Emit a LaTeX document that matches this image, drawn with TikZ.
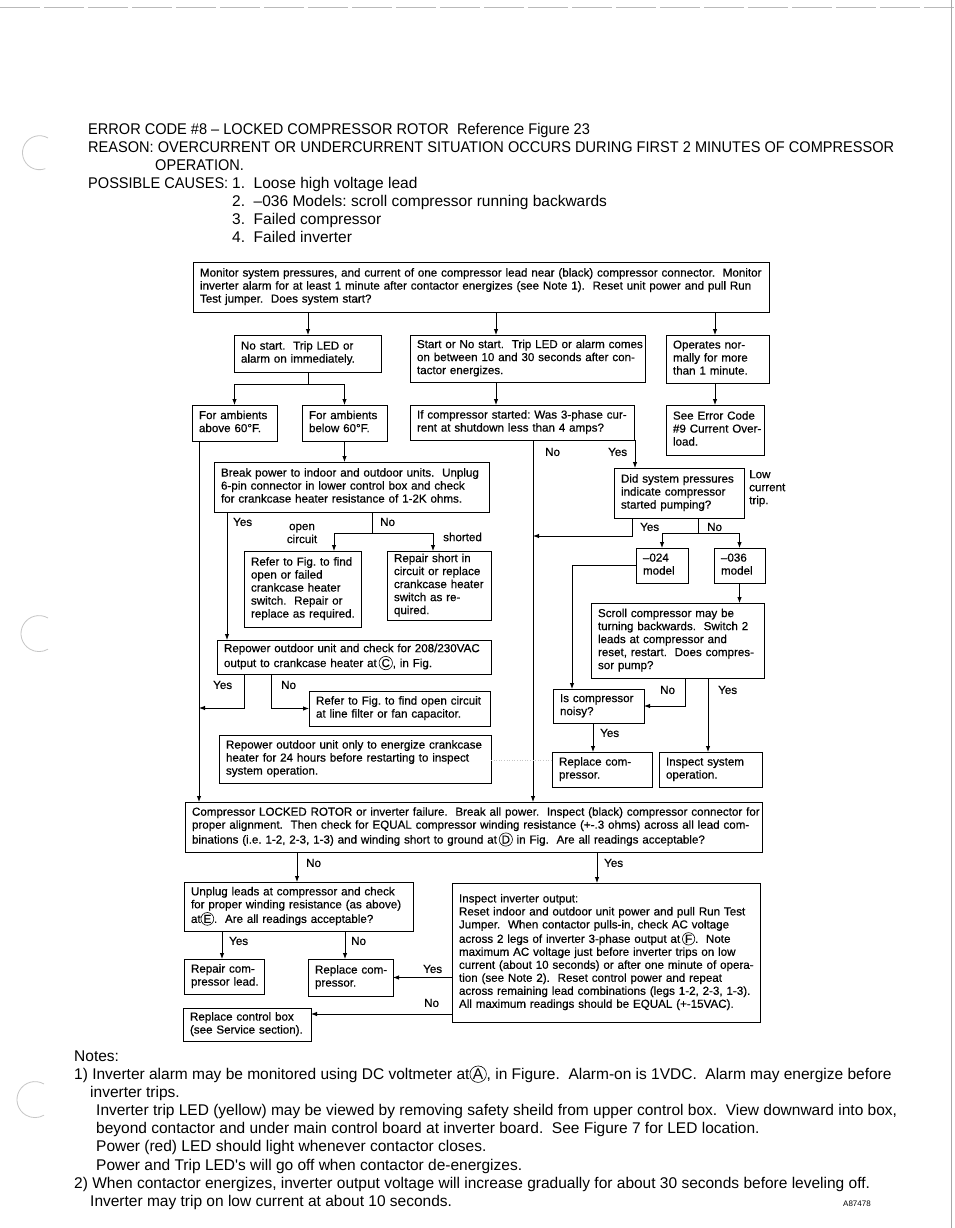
\documentclass[tikz,border=0pt]{standalone}
\usepackage{fontspec}
\setmainfont{Liberation Sans}
\newfontfamily\hfont[FakeStretch=0.94]{Liberation Sans}
\newfontfamily\nfont[FakeStretch=1.0]{Liberation Sans}
\newfontfamily\bfontfam[FakeBold=0.5]{Liberation Sans}
\usetikzlibrary{arrows.meta}
\newcommand\bxfont{\bfontfam\fontsize{11.6}{13}\selectfont}
\newcommand\hdfont{\hfont\fontsize{15.5}{18}\selectfont}
\newcommand\ntfont{\nfont\fontsize{15.5}{18}\selectfont}
\newcommand\cl[1]{\tikz[baseline=(cl.base)]\node[draw,circle,line width=0.6pt,inner sep=0.6pt,minimum size=0pt,text width={},anchor=center,outer sep=0pt](cl){#1};}
\tikzset{
 box/.style={draw,line width=0.9pt,anchor=north west,inner xsep=7pt,inner ysep=1pt,align=left,font=\bxfont,outer sep=0pt},
 lbl/.style={font=\bxfont,inner sep=0pt,anchor=west},
 ln/.style={line width=0.9pt},
 arr/.style={line width=0.9pt,-{Latex[length=6pt,width=4.5pt]}},
 hd/.style={font=\hdfont,inner sep=0pt,anchor=base west},
 nt/.style={font=\ntfont,inner sep=0pt,anchor=base west},
}
\newcommand\bx[6]{%
 \pgfmathsetmacro\bw{#4-#2}\pgfmathsetmacro\bh{#5-#3}\pgfmathsetmacro\tw{#4-#2-14}%
 \node[box,minimum width=\bw pt,minimum height=\bh pt,text width=\tw pt] (#1) at (#2,-#3) {\begin{tabular}{@{}l@{}}#6\end{tabular}};}
\begin{document}
\frenchspacing
\begin{tikzpicture}[x=1pt,y=1pt]
\fill[white] (0,0) rectangle (954,-1228);
\useasboundingbox (0,0) rectangle (954,-1228);
% scan edges
\draw[gray!55,line width=0.6pt,dash pattern=on 40pt off 4pt] (0,-7) -- (954,-7);
\draw[gray!70,line width=0.8pt] (951,0) -- (951,-1228);
\draw[gray!45,line width=0.8pt] (48,-138) arc (60:290:17);
\draw[gray!45,line width=0.8pt] (48,-618) arc (60:300:18);
\draw[gray!45,line width=0.8pt] (44,-1084) arc (60:300:18);

% header
\node[hd] (h1) at (88,-134.5) {ERROR CODE \#8 – LOCKED COMPRESSOR ROTOR\ \ Reference Figure 23};
\node[hd] (h2) at (88,-152.5) {REASON: OVERCURRENT OR UNDERCURRENT SITUATION OCCURS DURING FIRST 2 MINUTES OF COMPRESSOR};
\node[hd] (h3) at (155,-170.5) {OPERATION.};
\node[hd] (h4) at (88,-188.5) {POSSIBLE CAUSES:};
\node[nt] (h5) at (232,-188.5) {1. \ Loose high voltage lead};
\node[nt] (h6) at (232,-206.5) {2. \ –036 Models: scroll compressor running backwards};
\node[nt] (h7) at (232,-224.5) {3. \ Failed compressor};
\node[nt] (h8) at (232,-242.5) {4. \ Failed inverter};

% boxes
\bx{b1}{193}{262}{769}{312}{Monitor system pressures, and current of one compressor lead near (black) compressor connector. \ Monitor\\ inverter alarm for at least 1 minute after contactor energizes (see Note 1). \ Reset unit power and pull Run\\ Test jumper. \ Does system start?}
\bx{b2}{234}{335}{381}{372}{No start. \ Trip LED or\\alarm on immediately.}
\bx{b3}{410}{335}{645}{382}{Start or No start. \ Trip LED or alarm comes\\on between 10 and 30 seconds after con-\\tactor energizes.}
\bx{b4}{666}{335}{769}{383}{Operates nor-\\mally for more\\than 1 minute.}
\bx{b5}{192}{405}{277}{441}{For ambients\\above 60°F.}
\bx{b6}{302}{405}{387}{441}{For ambients\\below 60°F.}
\bx{b7}{410}{405}{634}{440}{If compressor started: Was 3-phase cur-\\rent at shutdown less than 4 amps?}
\bx{b8}{666}{405}{764}{455}{See Error Code\\\#9 Current Over-\\load.}
\bx{b9}{214}{462}{489}{512}{Break power to indoor and outdoor units. \ Unplug\\6-pin connector in lower control box and check\\for crankcase heater resistance of 1-2K ohms.}
\bx{b10}{244}{551}{361}{627}{Refer to Fig. to find\\open or failed\\crankcase heater\\switch. \ Repair or\\replace as required.}
\bx{b11}{387}{551}{491}{620}{Repair short in\\circuit or replace\\crankcase heater\\switch as re-\\quired.}
\bx{b12}{217}{640}{491}{674}{Repower outdoor unit and check for 208/230VAC\\output to crankcase heater at\,\cl{C}, in Fig.}
\bx{b13}{309}{691}{490}{726}{Refer to Fig. to find open circuit\\at line filter or fan capacitor.}
\bx{b14}{219}{735}{491}{783}{Repower outdoor unit only to energize crankcase\\heater for 24 hours before restarting to inspect\\system operation.}
\bx{b15}{614}{468}{744}{518}{Did system pressures\\indicate compressor\\started pumping?}
\bx{b16}{636}{548}{688}{583}{–024\\model}
\bx{b17}{714}{548}{765}{583}{–036\\model}
\bx{b18}{591}{603}{764}{678}{Scroll compressor may be\\turning backwards. \ Switch 2\\leads at compressor and\\reset, restart. \ Does compres-\\sor pump?}
\bx{b19}{553}{689}{644}{723}{Is compressor\\noisy?}
\bx{b20}{552}{752}{652}{787}{Replace com-\\pressor.}
\bx{b21}{659}{752}{762}{787}{Inspect system\\operation.}
\bx{bb}{185}{802}{762}{852}{Compressor LOCKED ROTOR or inverter failure. \ Break all power. \ Inspect (black) compressor connector for\\proper alignment. \ Then check for EQUAL compressor winding resistance (+-.3 ohms) across all lead com-\\binations (i.e. 1-2, 2-3, 1-3) and winding short to ground at\,\cl{D} in Fig. \ Are all readings acceptable?}
\bx{b22}{184}{882}{413}{931}{Unplug leads at compressor and check\\for proper winding resistance (as above)\\at\cl{E}. \ Are all readings acceptable?}
\bx{b24}{184}{959}{264}{994}{Repair com-\\pressor lead.}
\bx{b25}{308}{959}{393}{996}{Replace com-\\pressor.}
\bx{b26}{183}{1008}{311}{1041}{Replace control box\\(see Service section).}
\bx{b23}{452}{883}{760}{1022}{Inspect inverter output:\\Reset indoor and outdoor unit power and pull Run Test\\Jumper. \ When contactor pulls-in, check AC voltage\\across 2 legs of inverter 3-phase output at\,\cl{F}. \ Note\\maximum AC voltage just before inverter trips on low\\current (about 10 seconds) or after one minute of opera-\\tion (see Note 2). \ Reset control power and repeat\\across remaining lead combinations (legs 1-2, 2-3, 1-3).\\All maximum readings should be EQUAL (+-15VAC).\\}

% helper coordinates
\coordinate (cA) at (308,0);
\coordinate (cB) at (496,0);
\coordinate (cC) at (715,0);
\coordinate (cL) at (199,0);
\coordinate (cY) at (227,0);
\coordinate (cO) at (334,0);
\coordinate (cS) at (433,0);
\coordinate (cN2) at (271,0);
\coordinate (cM) at (533,0);
\coordinate (cY2) at (635,0);
\coordinate (c24) at (572,0);
\coordinate (cN3) at (685,0);
\coordinate (cY4) at (708,0);
\coordinate (cY5) at (593,0);
\coordinate (cN4) at (297,0);
\coordinate (cY6) at (597,0);
\coordinate (cY7) at (222,0);
\coordinate (cN5) at (345,0);
\coordinate (j1) at (308,-384);
\coordinate (j2) at (372,-533);
\coordinate (j3) at (244,-708);
\coordinate (j4) at (632,-536);
\coordinate (j5) at (698,-533);
\coordinate (j6) at (0,-1014);
\coordinate (j7) at (0,-760);

% connectors
\draw[arr] (b1.south -| cA) -- (b2.north -| cA);
\draw[arr] (b1.south -| cB) -- (b3.north -| cB);
\draw[arr] (b1.south -| cC) -- (b4.north -| cC);
\draw[arr] (b3.south -| cB) -- (b7.north -| cB);
\draw[arr] (b4.south -| cC) -- (b8.north -| cC);
\draw[ln] (b2.south -| j1) -- (j1);
\draw[arr] (j1) -| (b5.north);
\draw[arr] (j1) -| (b6.north);
\draw[arr] (b5.south -| cL) -- (bb.north -| cL);
\draw[arr] (b6.south) -- (b9.north -| b6.south);
\draw[arr] (b9.south -| cY) -- (b12.north -| cY);
\draw[ln] (b9.south -| j2) -- (j2);
\draw[arr] (j2) -| (b10.north -| cO);
\draw[arr] (j2) -| (b11.north -| cS);
\draw[arr] (b12.south -| j3) |- (cL |- j3);
\draw[arr] (b12.south -| cN2) |- (b13.west);
\draw[arr] (b7.south -| cM) -- (bb.north -| cM);
\draw[arr] (b7.south -| cY2) -- (b15.north -| cY2);
\draw[arr] (b15.south -| j4) -- (j4) -- (cM |- j4);
\draw[ln] (b15.south -| j5) -- (j5);
\draw[arr] (j5) -| (b16.north);
\draw[arr] (j5) -| (b17.north);
\draw[arr] (b16.west) -| (b19.north -| c24);
\draw[arr] (b17.south) -- (b18.north -| b17.south);
\draw[arr] (b18.south -| cN3) |- (b19.east);
\draw[arr] (b18.south -| cY4) -- (b21.north -| cY4);
\draw[arr] (b19.south -| cY5) -- (b20.north -| cY5);
\draw[arr] (bb.south -| cN4) -- (b22.north -| cN4);
\draw[arr] (bb.south -| cY6) -- (b23.north -| cY6);
\draw[arr] (b22.south -| cY7) -- (b24.north -| cY7);
\draw[arr] (b22.south -| cN5) -- (b25.north -| cN5);
\draw[arr] (b23.west |- b25.east) -- (b25.east);
\draw[arr] (b23.west |- j6) -- (b26.east |- j6);
\draw[gray!45,line width=0.6pt,dotted] (b14.east |- j7) -- (b20.west |- j7);

% labels
\node[lbl] (l1) at (233,-522) {Yes};
\node[lbl,align=center,anchor=center] (l2) at (302,-533.5) {open\\circuit};
\node[lbl] (l3) at (380,-522) {No};
\node[lbl] (l4) at (443,-537) {shorted};
\node[lbl] (l5) at (213,-685) {Yes};
\node[lbl] (l6) at (281,-685) {No};
\node[lbl] (l7) at (545,-452) {No};
\node[lbl] (l8) at (608,-452) {Yes};
\node[lbl,align=left,anchor=north west] (l9) at (749,-470) {Low\\current\\trip.};
\node[lbl] (l10) at (640,-527) {Yes};
\node[lbl] (l11) at (707,-527) {No};
\node[lbl] (l12) at (660,-690) {No};
\node[lbl] (l13) at (718,-690) {Yes};
\node[lbl] (l14) at (600,-733) {Yes};
\node[lbl] (l15) at (306,-863) {No};
\node[lbl] (l16) at (604,-863) {Yes};
\node[lbl] (l17) at (229,-941) {Yes};
\node[lbl] (l18) at (351,-941) {No};
\node[lbl] (l19) at (423,-969) {Yes};
\node[lbl] (l20) at (424,-1003) {No};

% notes
\node[nt] (n1) at (74,-1061.5) {Notes:};
\node[nt] (n2) at (74,-1079.5) {1) Inverter alarm may be monitored using DC voltmeter at\cl{A}, in Figure. \ Alarm-on is 1VDC. \ Alarm may energize before};
\node[nt] (n3) at (90,-1097.5) {inverter trips.};
\node[nt] (n4) at (96,-1115.5) {Inverter trip LED (yellow) may be viewed by removing safety sheild from upper control box. \ View downward into box,};
\node[nt] (n5) at (96,-1133.5) {beyond contactor and under main control board at inverter board. \ See Figure 7 for LED location.};
\node[nt] (n6) at (96,-1151.5) {Power (red) LED should light whenever contactor closes.};
\node[nt] (n7) at (96,-1170.5) {Power and Trip LED's will go off when contactor de-energizes.};
\node[nt] (n8) at (74,-1188.5) {2) When contactor energizes, inverter output voltage will increase gradually for about 30 seconds before leveling off.};
\node[nt] (n9) at (90,-1206.5) {Inverter may trip on low current at about 10 seconds.};
\node[font=\fontsize{8}{9}\selectfont,inner sep=0pt,anchor=base west] (n10) at (843,-1206) {A87478};
\end{tikzpicture}
\end{document}
